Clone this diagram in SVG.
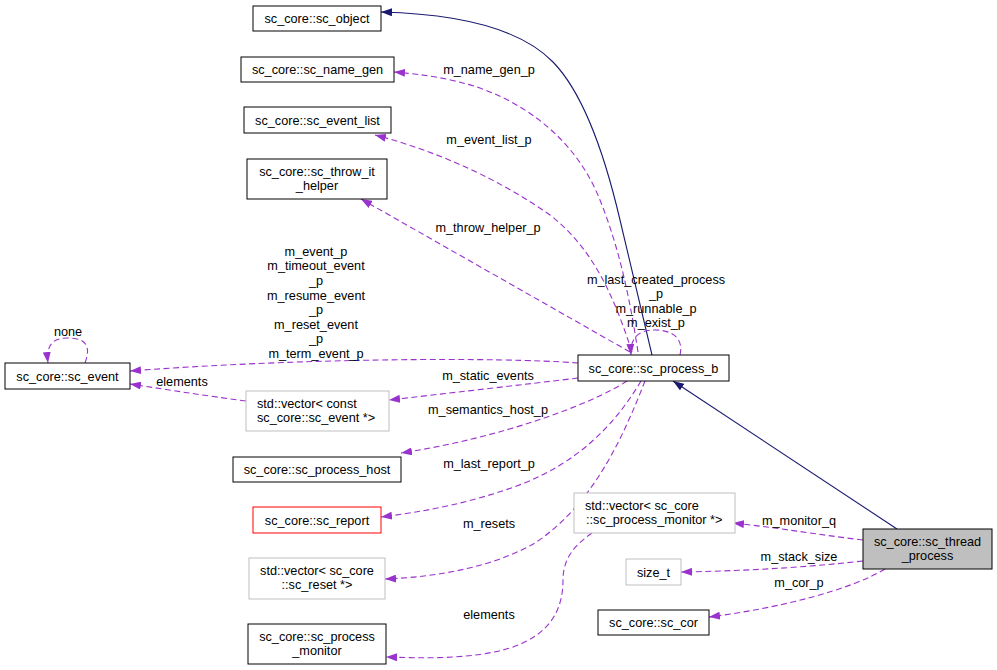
<svg xmlns="http://www.w3.org/2000/svg" width="997" height="670" viewBox="0 0 997 670">
<style>
text{font-family:"Liberation Sans",Arial,sans-serif;font-size:12.7px;fill:#000}
.n rect{fill:#fff;stroke:#000;stroke-width:1}
.g rect{fill:#fff;stroke:#bfbfbf;stroke-width:1}
.r rect{fill:#fff;stroke:#ff0000;stroke-width:1}
.m text{text-anchor:middle}
.b{fill:none;stroke:#191970;stroke-width:1.1}
.p{fill:none;stroke:#9a32cd;stroke-width:1.1;stroke-dasharray:6,3.5}
.lab{text-anchor:middle}
</style>
<defs>
<marker id="ab" markerWidth="11" markerHeight="8" refX="11" refY="4" orient="auto" markerUnits="userSpaceOnUse"><path d="M0,0 L11,4 L0,8 z" fill="#191970"/></marker>
<marker id="ap" markerWidth="11" markerHeight="8" refX="11" refY="4" orient="auto" markerUnits="userSpaceOnUse"><path d="M0,0 L11,4 L0,8 z" fill="#9a32cd"/></marker>
</defs>
<rect width="997" height="670" fill="#fff"/>
<g id="edges">
<path class="b" d="M897,529 L673,381" marker-end="url(#ab)"/>
<path class="b" d="M652,355 L620,220 C606,160 585,95 553,62 C520,28 460,14 381,12" marker-end="url(#ab)"/>
<path class="p" d="M638,352 C630,300 620,250 600,200 C580,150 540,110 480,88 C450,78 420,74 394,72" marker-end="url(#ap)"/>
<path class="p" d="M632,352 C615,300 595,250 550,215 C500,180 440,152 375,135" marker-end="url(#ap)"/>
<path class="p" d="M630,352 L361,199" marker-end="url(#ap)"/>
<path class="p" d="M680,355 C684,338 672,330 655,330 C638,330 630,338 631,355" marker-end="url(#ap)"/>
<path class="p" d="M578,363 C500,357 300,358 130,371" marker-end="url(#ap)"/>
<path class="p" d="M246,401 C200,395 170,390 130,384" marker-end="url(#ap)"/>
<path class="p" d="M578,378 C520,385 450,393 389,400" marker-end="url(#ap)"/>
<path class="p" d="M85,363 C92,344 84,338 67,338 C52,338 46,346 48,363" marker-end="url(#ap)"/>
<path class="p" d="M627,381 C590,405 500,438 401,453" marker-end="url(#ap)"/>
<path class="p" d="M641,381 C615,425 578,462 522,484 C472,503 422,512 381,517" marker-end="url(#ap)"/>
<path class="p" d="M645,381 C622,440 592,505 535,543 C495,566 440,577 385,579" marker-end="url(#ap)"/>
<path class="p" d="M592,533 C575,545 563,558 563,580 C563,610 550,635 510,648 C470,660 420,658 386,657" marker-end="url(#ap)"/>
<path class="p" d="M863,540 C820,535 780,528 733,523" marker-end="url(#ap)"/>
<path class="p" d="M863,561 C800,568 740,571 681,572" marker-end="url(#ap)"/>
<path class="p" d="M885,569 C850,590 780,608 709,617" marker-end="url(#ap)"/>
<text class="lab" x="489" y="73.5">m_name_gen_p</text>
<text class="lab" x="489" y="144">m_event_list_p</text>
<text class="lab" x="488" y="231.5">m_throw_helper_p</text>
<text class="lab" x="316" y="255.5">m_event_p</text>
<text class="lab" x="316" y="269.5">m_timeout_event</text>
<text class="lab" x="316" y="284.5">_p</text>
<text class="lab" x="316" y="299.5">m_resume_event</text>
<text class="lab" x="316" y="313.5">_p</text>
<text class="lab" x="316" y="328.5">m_reset_event</text>
<text class="lab" x="316" y="342.5">_p</text>
<text class="lab" x="316" y="357.5">m_term_event_p</text>
<text class="lab" x="656" y="283.5">m_last_created_process</text>
<text class="lab" x="656" y="297.5">_p</text>
<text class="lab" x="656" y="312.5">m_runnable_p</text>
<text class="lab" x="656" y="327">m_exist_p</text>
<text class="lab" x="488" y="379.5">m_static_events</text>
<text class="lab" x="182" y="385.5">elements</text>
<text class="lab" x="68" y="335.5">none</text>
<text class="lab" x="488" y="413.5">m_semantics_host_p</text>
<text class="lab" x="489" y="467.5">m_last_report_p</text>
<text class="lab" x="489" y="527.5">m_resets</text>
<text class="lab" x="489" y="618.5">elements</text>
<text class="lab" x="799" y="524.5">m_monitor_q</text>
<text class="lab" x="799" y="560.5">m_stack_size</text>
<text class="lab" x="799" y="586.5">m_cor_p</text>
</g>
<g id="sc_object" class="n m"><rect x="253" y="6" width="128" height="25"/><text x="317" y="23">sc_core::sc_object</text></g>
<g id="sc_name_gen" class="n m"><rect x="241" y="57" width="153" height="25"/><text x="317.5" y="74">sc_core::sc_name_gen</text></g>
<g id="sc_event_list" class="n m"><rect x="244" y="107" width="147" height="26"/><text x="317.5" y="124.5">sc_core::sc_event_list</text></g>
<g id="sc_throw_it_helper" class="n m"><rect x="247" y="159" width="140" height="40"/><text x="317" y="176">sc_core::sc_throw_it</text><text x="317" y="190">_helper</text></g>
<g id="sc_event" class="n m"><rect x="5" y="363" width="125" height="26"/><text x="67.5" y="380.5">sc_core::sc_event</text></g>
<g id="vector_const_sc_event" class="g"><rect x="246" y="391" width="143" height="40"/><text x="257" y="408">std::vector&lt; const</text><text x="257" y="422"> sc_core::sc_event *&gt;</text></g>
<g id="sc_process_host" class="n m"><rect x="233" y="457" width="168" height="25"/><text x="317" y="474">sc_core::sc_process_host</text></g>
<g id="sc_report" class="r m"><rect x="253" y="507" width="128" height="26"/><text x="317" y="524.5">sc_core::sc_report</text></g>
<g id="vector_sc_reset" class="g m"><rect x="249" y="558" width="136" height="41"/><text x="317" y="575">std::vector&lt; sc_core</text><text x="317" y="589">::sc_reset *&gt;</text></g>
<g id="sc_process_monitor" class="n m"><rect x="248" y="624" width="138" height="40"/><text x="317" y="640.5">sc_core::sc_process</text><text x="317" y="654.5">_monitor</text></g>
<g id="sc_process_b" class="n m"><rect x="578" y="355" width="151" height="26"/><text x="653.5" y="372.5">sc_core::sc_process_b</text></g>
<g id="vector_sc_process_monitor" class="g"><rect x="574" y="493" width="161" height="40"/><text x="585" y="509.5">std::vector&lt; sc_core</text><text x="586" y="523.5">::sc_process_monitor *&gt;</text></g>
<g id="size_t" class="g m"><rect x="626" y="559" width="55" height="26"/><text x="653.5" y="576.5">size_t</text></g>
<g id="sc_cor" class="n m"><rect x="598" y="610" width="111" height="25"/><text x="653.5" y="627">sc_core::sc_cor</text></g>
<g id="sc_thread_process" class="n m"><rect x="863" y="529" width="129" height="40" style="fill:#bfbfbf"/><text x="927.5" y="545.5">sc_core::sc_thread</text><text x="927.5" y="559.5">_process</text></g>
</svg>
